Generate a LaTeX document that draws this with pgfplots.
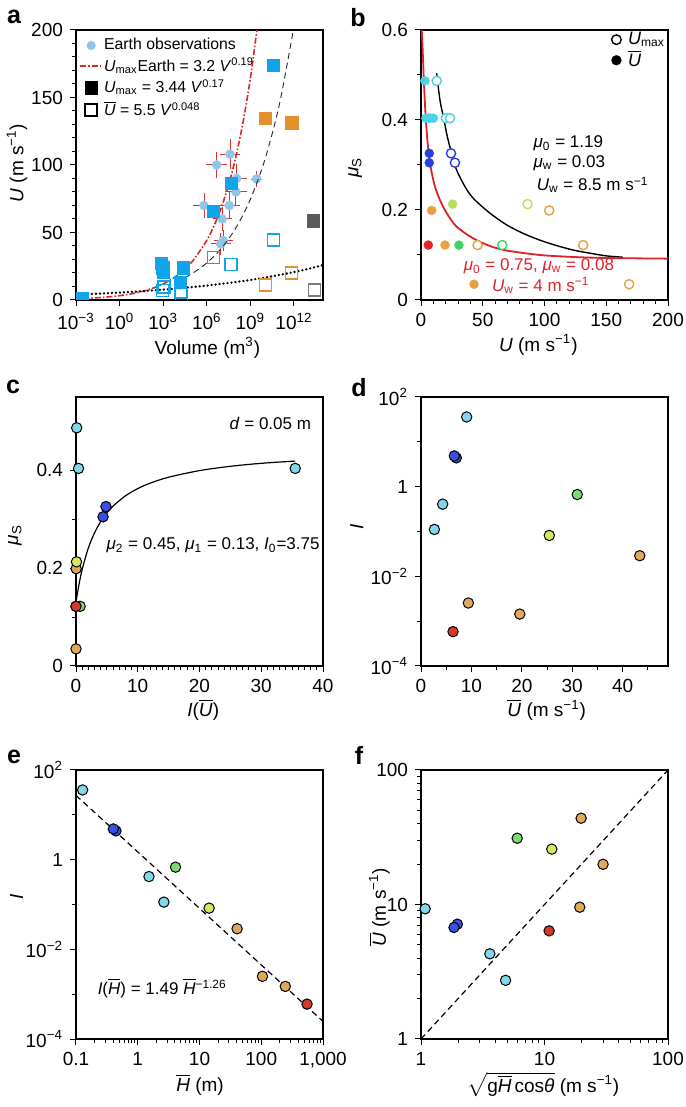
\documentclass[border=0pt]{standalone}
\usepackage{fontspec}
\setmainfont{Liberation Sans}
\usepackage{pgfplots}
\pgfplotsset{compat=1.18}
\newcommand{\ob}[1]{\ensuremath{\overline{\mbox{\textit{#1}}}}}
\newcommand{\fs}{\fontsize{9.5}{11.4}\selectfont}
\newcommand{\fa}{\fontsize{8.5}{10.2}\selectfont}
\newcommand{\fl}{\fontsize{12.5}{14}\selectfont\bfseries}
\definecolor{errred}{HTML}{D9332B}
\definecolor{lblue}{HTML}{8EC6EA}
\definecolor{sblue}{HTML}{10A5E8}
\definecolor{sorange}{HTML}{E38F2E}
\definecolor{sgray}{HTML}{5A5A5A}
\definecolor{ogray}{HTML}{7A7A7A}
\definecolor{redline}{HTML}{D92A2A}
\definecolor{bC}{HTML}{4FD0E4}
\definecolor{bB}{HTML}{2541DD}
\definecolor{bO}{HTML}{E8A040}
\definecolor{bY}{HTML}{B8E055}
\definecolor{bG}{HTML}{3FD565}
\definecolor{bR}{HTML}{E8202A}
\definecolor{bcurve}{HTML}{E0202A}
\definecolor{cC}{HTML}{82D8EA}
\definecolor{cB}{HTML}{3B4FE2}
\definecolor{cG}{HTML}{7CDB72}
\definecolor{cY}{HTML}{D8E564}
\definecolor{cO}{HTML}{E0AA5C}
\definecolor{cR}{HTML}{D33A2C}
\pgfplotsset{
  pan/.style={scale only axis, width=123.5pt, height=135pt,
    axis line style={line width=0.6pt},
    tick align=outside, xtick pos=left, ytick pos=left,
    major tick length=3pt, minor tick length=1.8pt,
    tick style={black, line width=0.5pt},
    tick label style={font=\fs, black},
    label style={font=\fs},
    /pgf/number format/assume math mode=true},
  dot/.style={only marks, mark=*, mark size=2.6pt, mark options={draw=black, line width=0.5pt, fill=#1}},
  fdot/.style={only marks, mark=*, mark size=2.3pt, mark options={draw=#1, line width=0.1pt, fill=#1}},
  odot/.style={only marks, mark=*, mark size=2.3pt, mark options={draw=#1, line width=0.7pt, fill=white}},
  fsq/.style={only marks, mark=square*, mark size=3.1pt, mark options={draw=#1, line width=0.1pt, fill=#1}},
  osq/.style={only marks, mark=square, mark size=3.0pt, mark options={draw=#1, line width=0.7pt, fill=white}},
  legmark/.style={legend image code/.code={\draw[##1] plot coordinates {(#1,0pt)};}},
  legline/.style={legend image code/.code={\draw[##1] (0pt,0pt) -- (#1,0pt);}},
}
\begin{document}
\begin{tikzpicture}
\useasboundingbox (0,0) rectangle (342.5pt,553.5pt);

% ---------------- panel a ----------------
\begin{axis}[pan, at={(38pt,403.5pt)}, anchor=south west, clip marker paths=true,
  xmin=-3, xmax=14, ymin=0, ymax=200,
  xtick={-3,0,3,6,9,12},
  xticklabels={10\textsuperscript{−3},10\textsuperscript{0},10\textsuperscript{3},10\textsuperscript{6},10\textsuperscript{9},10\textsuperscript{12}},
  ytick={0,50,100,150,200}, minor ytick={10,20,...,190},
  xlabel={Volume (m\textsuperscript{3})}, ylabel={\textit{U} (m s\textsuperscript{−1})},
  xlabel style={at={(axis description cs:0.532,-0.178)},anchor=center},
  ylabel style={at={(axis description cs:-0.239,0.507)},anchor=center},
  legend style={draw=none, fill=none, at={(axis description cs:0.012,0.975)}, anchor=north west,
    font=\fontsize{7.9}{9}\selectfont, inner sep=0pt, row sep=1.4pt, cells={anchor=west},
    nodes={inner sep=0.6pt}},
]
\addlegendimage{only marks, mark=*, mark size=2.2pt, mark options={draw=lblue, line width=0.1pt, fill=lblue}, legmark=5.5pt}
\addlegendentry{Earth observations}
\addlegendimage{redline, line width=0.8pt, dash pattern=on 3pt off 1pt on 0.8pt off 1pt, legline=11pt}
\addlegendentry{\textit{U}\textsubscript{max}Earth = 3.2 \textit{V}\textsuperscript{0.19}}
\addlegendimage{fsq=black, legmark=5.5pt}
\addlegendentry{\textit{U}\textsubscript{max} = 3.44 \textit{V}\textsuperscript{0.17}}
\addlegendimage{osq=black, legmark=5.5pt}
\addlegendentry{\ob{U} = 5.5 \textit{V}\textsuperscript{0.048}}

\addplot[forget plot, only marks, mark=*, mark size=2.3pt, mark options={draw=lblue, line width=0.1pt, fill=lblue},
  error bars/.cd, x dir=both, x explicit, y dir=both, y explicit,
  error bar style={errred, line width=0.5pt}, error mark options={errred, mark size=2pt, line width=0.5pt}]
  table[x=x, y=y, x error=ex, y error=ey] {
x y ex ey
6.68 100 0.45 7
7.60 108 0.40 8
8.06 90 0.45 8
8.01 80 0.45 7
5.81 70 0.45 6
7.55 70 0.45 7
7.07 60 0.40 6
7.14 44 0.40 5
6.96 41.5 0.40 5
9.43 89.6 0.10 3
};
\addplot[forget plot, redline, line width=0.8pt, dash pattern=on 3pt off 1pt on 0.8pt off 1pt, smooth] coordinates {
(-2.5,1.07) (-2,1.33) (-1,2.07) (0,3.2) (1,4.96) (2,7.68) (3,11.9) (4,18.4) (5,28.5) (6,44.2) (6.5,55.0) (7,68.4) (7.5,85.1) (8,106) (8.5,131.9) (9,164) (9.45,200)};
\addplot[forget plot, black!85, line width=0.45pt, dash pattern=on 3pt off 2pt, smooth] coordinates {
(4.5,16.6) (5,19.6) (6,27.4) (7,38.2) (8,53.3) (9,74.5) (10,104) (11,145) (11.96,200)};
\addplot[forget plot, black, line width=1.3pt, line cap=round, dash pattern=on 0pt off 2pt, smooth] coordinates {
(-3,3.95) (-1.5,4.66) (0,5.5) (1.5,6.49) (3,7.66) (4.5,9.04) (6,10.67) (7.5,12.6) (9,14.86) (10.5,17.56) (12,20.7) (13,23.1) (14,25.8)};
\addplot[forget plot, osq=sblue] coordinates {
(10.58,44.4) (6.45,31.4) (7.67,26.4) (3.05,9.5) (2.95,7.2) (4.2,5.8) (4.27,4.0)};
\addplot[forget plot, osq=sorange] coordinates {(10.06,11) (11.84,20)};
\addplot[forget plot, osq=ogray] coordinates {(13.4,7.4)};
\addplot[forget plot, fsq=sblue] coordinates {
(-2.6,1) (10.58,174) (7.67,86.7) (6.45,66) (2.85,27.5) (2.95,24) (3.0,20.5) (4.39,24) (4.16,13.2)};
\addplot[forget plot, fsq=sorange] coordinates {(10.0,134.6) (11.84,131.4)};
\addplot[forget plot, fsq=sgray] coordinates {(13.33,58.8)};
\end{axis}

% ---------------- panel b ----------------
\begin{axis}[pan, at={(210.5pt,403.5pt)}, anchor=south west, clip=false,
  xmin=0, xmax=200, ymin=0, ymax=0.6,
  xtick={0,50,...,200}, minor xtick={10,20,...,190},
  ytick={0,0.2,0.4,0.6}, minor ytick={0.1,0.3,0.5},
  xlabel={\textit{U} (m s\textsuperscript{−1})}, ylabel={\textit{μ}\textsubscript{S}},
  xlabel style={at={(axis description cs:0.475,-0.167)},anchor=center},
  ylabel style={at={(axis description cs:-0.267,0.49)},anchor=center},
  legend style={draw=none, fill=none, at={(axis description cs:0.995,1.0)}, anchor=north east,
    font=\fontsize{9}{10}\selectfont, inner sep=0pt, row sep=0pt, column sep=2.5pt, cells={anchor=west}, nodes={inner sep=0.8pt}},
]
\addlegendimage{only marks, mark=*, mark size=2.4pt, mark options={draw=black, line width=0.7pt, fill=white}, legmark=3pt}
\addlegendentry{\textit{U}\textsubscript{max}}
\addlegendimage{fdot=black, mark size=2.5pt, legmark=3pt}
\addlegendentry{\ob{U}}

\addplot[forget plot, black, line width=0.7pt, smooth] coordinates {
(12.67,0.504) (15.36,0.444) (18.33,0.404) (21.3,0.363) (24.8,0.326) (28.8,0.289) (35.6,0.252) (42.3,0.226) (55.8,0.193) (69.3,0.167) (82.7,0.148) (96.2,0.133) (109.7,0.121) (123.2,0.111) (136.7,0.104) (150.1,0.098) (163.6,0.095)};
\addplot[forget plot, bcurve, line width=0.9pt, smooth] coordinates {
(0.6,0.6) (1.35,0.556) (2.4,0.481) (3.8,0.407) (5.4,0.348) (7.8,0.296) (11.3,0.252) (15.4,0.222) (20.8,0.193) (28.8,0.163) (42.3,0.137) (55.8,0.12) (69.3,0.11) (96.2,0.1) (123.2,0.0956) (150.1,0.0933) (200,0.0919)};
\addplot[forget plot, odot=bC] coordinates {(12.7,0.487) (20.2,0.404) (23.5,0.404)};
\addplot[forget plot, odot=bB] coordinates {(24.3,0.326) (27.5,0.305)};
\addplot[forget plot, odot=bO] coordinates {(45.8,0.122) (103.8,0.199) (131.3,0.122) (168.5,0.035)};
\addplot[forget plot, odot=bY] coordinates {(86.3,0.213)};
\addplot[forget plot, odot=bG] coordinates {(65.8,0.122)};
\addplot[forget plot, fdot=bC] coordinates {(3.2,0.487) (4,0.404) (6,0.404) (7.5,0.404) (10,0.404)};
\addplot[forget plot, fdot=bB] coordinates {(6.7,0.326) (6.7,0.305)};
\addplot[forget plot, fdot=bO] coordinates {(8.6,0.199) (19.4,0.122) (42.9,0.035)};
\addplot[forget plot, fdot=bY] coordinates {(25.6,0.213)};
\addplot[forget plot, fdot=bG] coordinates {(30.7,0.122)};
\addplot[forget plot, fdot=bR] coordinates {(5.9,0.122)};
\node[anchor=west, font=\fa] at (axis cs:85.5,0.349) {\textit{μ}\textsubscript{0} = 1.19};
\node[anchor=west, font=\fa] at (axis cs:85.5,0.304) {\textit{μ}\textsubscript{w} = 0.03};
\node[anchor=west, font=\fa] at (axis cs:88,0.256) {\textit{U}\textsubscript{w} = 8.5 m s\textsuperscript{−1}};
\node[anchor=west, font=\fa, text=bcurve] at (axis cs:28.9,0.074) {\textit{μ}\textsubscript{0} = 0.75, \textit{μ}\textsubscript{w} = 0.08};
\node[anchor=west, font=\fa, text=bcurve] at (axis cs:51.8,0.033) {\textit{U}\textsubscript{w} = 4 m s\textsuperscript{−1}};
\end{axis}

% ---------------- panel c ----------------
\begin{axis}[pan, at={(38pt,220.5pt)}, anchor=south west, height=134.5pt, clip=false,
  xmin=0, xmax=40, ymin=0, ymax=0.55,
  xtick={0,10,...,40}, minor xtick={1,2,...,39},
  ytick={0,0.2,0.4}, minor ytick={0.1,0.3},
  xlabel={\textit{I}(\ob{U})}, ylabel={\textit{μ}\textsubscript{S}},
  xlabel style={at={(axis description cs:0.515,-0.164)},anchor=center},
  ylabel style={at={(axis description cs:-0.247,0.487)},anchor=center},
]
\addplot[black, line width=0.6pt, smooth] coordinates {
(0,0.13) (0.25,0.15) (0.5,0.1676) (1,0.1974) (2,0.2413) (3,0.2722) (4,0.2952) (5,0.3129) (6,0.3269) (8,0.3479) (10,0.3627) (12,0.3738) (15,0.386) (20,0.3995) (25,0.4083) (30,0.4144) (35.5,0.419)};
\addplot[dot=cO] coordinates {(0.03,0.199) (0.0025,0.035) (0.0014,0.122)};
\addplot[dot=cG] coordinates {(0.67,0.122)};
\addplot[dot=cR] coordinates {(0.0006,0.122)};
\addplot[dot=cY] coordinates {(0.08,0.213)};
\addplot[dot=cC] coordinates {(0.11,0.487) (0.41,0.404) (35.5,0.404)};
\addplot[dot=cB] coordinates {(4.38,0.305) (4.85,0.326)};
\node[anchor=east, font=\fa] at (axis cs:39.2,0.495) {\textit{d} = 0.05 m};
\node[anchor=west, font=\fa] at (axis cs:3.8,0.247) {\textit{μ}\textsubscript{2} = 0.45, \textit{μ}\textsubscript{1} = 0.13, \textit{I}\textsubscript{0}=3.75};
\end{axis}

% ---------------- panel d ----------------
\begin{axis}[pan, at={(210.5pt,220.5pt)}, anchor=south west, height=134.5pt, clip=false,
  xmin=0, xmax=49, ymin=1e-4, ymax=1e2, ymode=log,
  xtick={0,10,...,40}, minor xtick={5,15,...,45},
  ytick={1e-4,1e-2,1,1e2}, yticklabels={10\textsuperscript{−4},10\textsuperscript{−2},1,10\textsuperscript{2}},
  minor ytick={1e-3,1e-1,10},
  xlabel={\ob{U} (m s\textsuperscript{−1})}, ylabel={\textit{I}},
  xlabel style={at={(axis description cs:0.509,-0.164)},anchor=center},
  ylabel style={at={(axis description cs:-0.26,0.518)},anchor=center},
]
\addplot[dot=cC] coordinates {(9.06,35.9) (4.3,0.407) (2.65,0.111)};
\addplot[dot=cB] coordinates {(7.0,4.38) (6.6,4.85)};
\addplot[dot=cG] coordinates {(31.0,0.668)};
\addplot[dot=cY] coordinates {(25.45,0.0816)};
\addplot[dot=cO] coordinates {(43.4,0.0288) (9.39,0.00254) (19.6,0.00144)};
\addplot[dot=cR] coordinates {(6.35,0.000583)};
\end{axis}

% ---------------- panel e ----------------
\begin{axis}[pan, at={(38pt,34pt)}, anchor=south west, height=134.5pt, clip=false,
  xmode=log, ymode=log, xmin=0.1, xmax=1000, ymin=1e-4, ymax=1e2,
  xtick={0.1,1,10,100,1000}, xticklabels={0.1,1,10,100,{1,000}},
  minor xtick={0.2,0.3,0.4,0.5,0.6,0.7,0.8,0.9,2,3,4,5,6,7,8,9,20,30,40,50,60,70,80,90,200,300,400,500,600,700,800,900},
  ytick={1e-4,1e-2,1,1e2}, yticklabels={10\textsuperscript{−4},10\textsuperscript{−2},1,10\textsuperscript{2}},
  minor ytick={1e-3,1e-1,10},
  xlabel={\ob{H} (m)}, ylabel={\textit{I}},
  xlabel style={at={(axis description cs:0.502,-0.17)},anchor=center},
  ylabel style={at={(axis description cs:-0.24,0.53)},anchor=center},
]
\addplot[black, line width=0.6pt, dash pattern=on 3pt off 2pt] coordinates {(0.1,27.1) (1000,0.000247)};
\addplot[dot=cC] coordinates {(0.128,35.9) (1.52,0.42) (2.65,0.113)};
\addplot[dot=cB] coordinates {(0.444,4.38) (0.402,4.85)};
\addplot[dot=cG] coordinates {(4.09,0.68)};
\addplot[dot=cY] coordinates {(14.3,0.083)};
\addplot[dot=cO] coordinates {(40.6,0.0288) (104.5,0.0025) (245,0.00149)};
\addplot[dot=cR] coordinates {(551,0.0006)};
\node[anchor=west, font=\fa] at (axis cs:0.173,0.00137) {\textit{I}(\ob{H}) = 1.49 \ob{H}\textsuperscript{−1.26}};
\end{axis}

% ---------------- panel f ----------------
\begin{axis}[pan, at={(210.5pt,34pt)}, anchor=south west, height=134.5pt, clip=false,
  xmode=log, ymode=log, xmin=1, xmax=100, ymin=1, ymax=100,
  xtick={1,10,100}, xticklabels={1,10,100},
  ytick={1,10,100}, yticklabels={1,10,100},
  minor xtick={2,3,4,5,6,7,8,9,20,30,40,50,60,70,80,90},
  minor ytick={2,3,4,5,6,7,8,9,20,30,40,50,60,70,80,90},
  xlabel={$\sqrt{\mbox{g}\overline{\mbox{\textit{H}}}\,\mbox{cos\textit{θ}}}$ (m s\textsuperscript{−1})},
  ylabel={\ob{U} (m s\textsuperscript{−1})},
  xlabel style={at={(axis description cs:0.495,-0.17)},anchor=center},
  ylabel style={at={(axis description cs:-0.169,0.49)},anchor=center},
]
\addplot[black, line width=0.6pt, dash pattern=on 3pt off 2pt] coordinates {(1,1) (100,100)};
\addplot[dot=cC] coordinates {(1.08,9.29) (3.61,4.3) (4.84,2.73)};
\addplot[dot=cB] coordinates {(1.97,7.14) (1.85,6.75)};
\addplot[dot=cG] coordinates {(6.01,31.1)};
\addplot[dot=cY] coordinates {(11.46,25.8)};
\addplot[dot=cO] coordinates {(19.8,43.8) (29.8,19.9) (19.3,9.55)};
\addplot[dot=cR] coordinates {(10.9,6.37)};
\end{axis}

\node[font=\fl] at (7pt,545pt) {a};
\node[font=\fl] at (179pt,544.5pt) {b};
\node[font=\fl] at (6.5pt,360pt) {c};
\node[font=\fl] at (179.5pt,359.5pt) {d};
\node[font=\fl] at (7pt,175pt) {e};
\node[font=\fl] at (179.5pt,176pt) {f};
\end{tikzpicture}
\end{document}
